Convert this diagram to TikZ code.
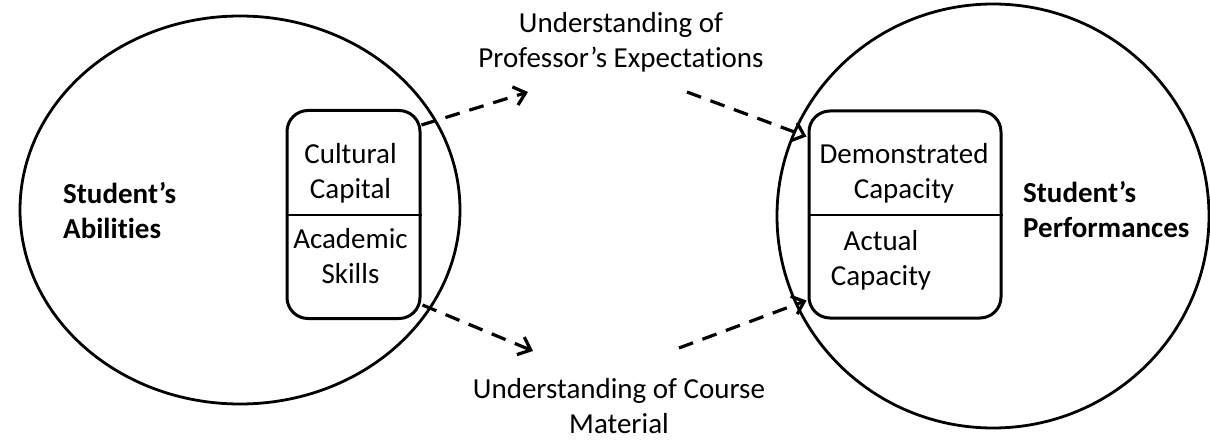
\documentclass[tikz,border=0pt]{standalone}
\usepackage{fontspec}
\setmainfont{Carlito}[Ligatures=NoCommon]
\usetikzlibrary{arrows.meta,calc}

% two-line text block whose baseline is that of its first line
\newcommand{\twoc}[2]{\begin{tabular}[t]{@{}c@{}}#1\\#2\end{tabular}}
\newcommand{\twol}[2]{\begin{tabular}[t]{@{}l@{}}#1\\#2\end{tabular}}

\begin{document}
\begin{tikzpicture}[x=1pt,y=-1pt,
  every node/.style={inner sep=0pt, font=\fontsize{29}{35}\selectfont},
  group/.style={draw, line width=2.8pt},
  panel/.style={draw, line width=3pt, rounded corners=21pt},
  divider/.style={line width=1.3pt},
  flow/.style={line width=3.2pt, dash pattern=on 15pt off 10pt,
    -{Straight Barb[length=11pt,width=19pt]}},
  label/.style={anchor=base}
]
\useasboundingbox (0,0) rectangle (1210,441);

% the two large groups
\draw[group] (240,210) ellipse [x radius=220, y radius=194];
\draw[group] (993,216) ellipse [x radius=216, y radius=212];

% inner panels
\node[panel, minimum width=133pt, minimum height=208pt] (lbox) at (353.5,214.5) {};
\node[panel, minimum width=192pt, minimum height=207pt] (rbox) at (905,214.5) {};
\draw[divider] (lbox.west |- 0,215) -- (lbox.east |- 0,215);
\draw[divider] (rbox.west |- 0,215) -- (rbox.east |- 0,215);

% panel texts
\node[label] (cc) at (350.5,164) {\twoc{Cultural}{Capital}};
\node[label] (as) at (350.5,248) {\twoc{Academic}{Skills}};
\node[label] (dc) at (904,164) {\twoc{Demonstrated}{Capacity}};
\node[label] (ac) at (881,250) {\twoc{Actual}{Capacity}};

% group titles
\node[anchor=base west] (sa) at (63,203) {\bfseries\twol{Student’s}{Abilities}};
\node[anchor=base west] (sp) at (1023,202) {\bfseries\twol{Student’s}{Performances}};

% intermediate understandings
\node[anchor=north, align=center] (pe) at (621,12) {Understanding of\\Professor’s Expectations};
\node[anchor=south, align=center] (cm) at (619,434) {Understanding of Course\\Material};

% connector ends
\coordinate (pe-in)  at (528,92);
\coordinate (pe-out) at (687,92);
\coordinate (cm-in)  at (533,351);
\coordinate (cm-out) at (679,348);

\draw[flow] ($(lbox.north east)+(0,16)$) -- (pe-in);
\draw[flow] ($(lbox.south east)+(1,-15)$) -- (cm-in);
\draw[flow] (pe-out) -- ($(rbox.north west)+(-1,27)$);
\draw[flow] (cm-out) -- ($(rbox.south west)+(-1,-19)$);
\end{tikzpicture}
\end{document}
